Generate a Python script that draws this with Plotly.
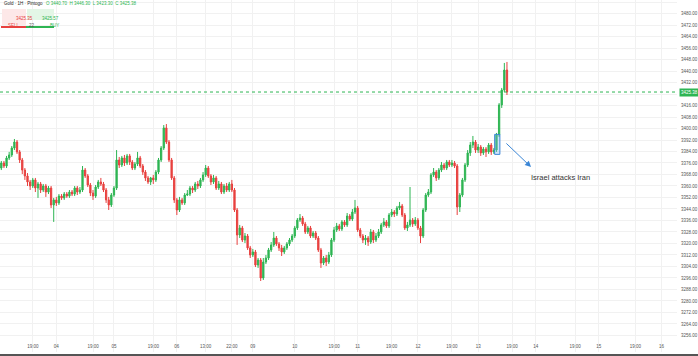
import plotly.graph_objects as go

open_ = [3372.5, 3376.0, 3373.9, 3379.5, 3381.6, 3386.4, 3390.6, 3383.7, 3378.1, 3371.1,
         3367.0, 3362.8, 3360.0, 3364.2, 3358.6, 3361.4, 3357.2, 3360.0, 3355.8, 3358.6,
         3346.8, 3350.3, 3348.2, 3353.0, 3351.7, 3354.4, 3353.0, 3355.8, 3354.4, 3358.6,
         3355.8, 3357.2, 3371.1, 3367.0, 3360.7, 3355.1, 3353.0, 3359.3, 3362.8, 3361.4,
         3357.2, 3350.3, 3346.8, 3353.7, 3358.6, 3378.1, 3374.6, 3379.5, 3376.0, 3380.9,
         3376.7, 3372.5, 3375.3, 3379.5, 3373.9, 3369.7, 3365.6, 3362.8, 3365.6, 3364.2, 3369.7, 3378.1,
         3386.4, 3400.4, 3390.6, 3378.1, 3365.6, 3350.3, 3343.3, 3350.3, 3348.2,
         3353.7, 3354.4, 3358.6, 3357.2, 3361.4, 3360.0, 3364.2, 3367.7, 3372.5,
         3367.0, 3362.8, 3365.6, 3358.6, 3361.4, 3355.8, 3360.0, 3357.2, 3361.4, 3357.2,
         3343.3, 3325.9, 3330.8, 3322.4, 3325.2, 3316.9, 3312.0, 3314.1, 3305.0, 3308.5,
         3296.0, 3307.1, 3309.9, 3315.5, 3319.0, 3323.8, 3319.7, 3316.9, 3314.1, 3316.9,
         3319.7, 3322.4, 3325.2, 3330.8, 3336.3, 3337.7, 3333.6, 3328.0, 3330.8, 3325.2,
         3327.3, 3323.8, 3315.5, 3306.4, 3309.9, 3307.1, 3312.0, 3322.4, 3329.4, 3332.2,
         3330.1, 3335.0, 3332.9, 3339.1, 3337.0, 3341.9, 3344.7, 3329.4, 3325.2, 3322.4,
         3323.8, 3321.0, 3328.0, 3322.4, 3325.2, 3328.0, 3332.9, 3335.0, 3332.2, 3339.8,
         3341.9, 3340.5, 3344.7, 3346.1, 3339.8, 3330.8, 3332.9, 3336.3, 3333.6, 3336.3,
         3330.8, 3325.2, 3343.3, 3353.7, 3355.8, 3367.7, 3369.7, 3365.6, 3371.1, 3374.6,
         3372.5, 3376.7, 3374.6, 3376.0, 3373.9, 3345.4, 3353.7, 3364.2, 3374.6, 3383.0,
         3388.5, 3390.6, 3385.0, 3387.1, 3383.0, 3385.7, 3383.7, 3388.5, 3383.7, 3385.0,
         3395.5, 3416.4, 3426.8, 3440.7]

close = [3376.0, 3373.9, 3379.5, 3381.6, 3386.4, 3390.6, 3383.7, 3378.1, 3371.1, 3367.0,
         3362.8, 3360.0, 3364.2, 3358.6, 3361.4, 3357.2, 3360.0, 3355.8, 3358.6, 3346.8,
         3350.3, 3348.2, 3353.0, 3351.7, 3354.4, 3353.0, 3355.8, 3354.4, 3358.6, 3355.8,
         3357.2, 3371.1, 3367.0, 3360.7, 3355.1, 3353.0, 3359.3, 3362.8, 3361.4, 3357.2,
         3350.3, 3346.8, 3353.7, 3358.6, 3378.1, 3374.6, 3379.5, 3376.0, 3380.9, 3376.7,
         3372.5, 3375.3, 3379.5, 3373.9, 3369.7, 3365.6, 3362.8, 3365.6, 3364.2, 3369.7, 3378.1, 3386.4,
         3400.4, 3390.6, 3378.1, 3365.6, 3350.3, 3343.3, 3350.3, 3348.2, 3353.7,
         3354.4, 3358.6, 3357.2, 3361.4, 3360.0, 3364.2, 3367.7, 3372.5, 3367.0,
         3362.8, 3365.6, 3358.6, 3361.4, 3355.8, 3360.0, 3357.2, 3361.4, 3357.2, 3343.3,
         3325.9, 3330.8, 3322.4, 3325.2, 3316.9, 3312.0, 3314.1, 3305.0, 3308.5, 3296.0,
         3307.1, 3309.9, 3315.5, 3319.0, 3323.8, 3319.7, 3316.9, 3314.1, 3316.9, 3319.7,
         3322.4, 3325.2, 3330.8, 3336.3, 3337.7, 3333.6, 3328.0, 3330.8, 3325.2, 3327.3,
         3323.8, 3315.5, 3306.4, 3309.9, 3307.1, 3312.0, 3322.4, 3329.4, 3332.2, 3330.1,
         3335.0, 3332.9, 3339.1, 3337.0, 3341.9, 3344.7, 3329.4, 3325.2, 3322.4, 3323.8,
         3321.0, 3328.0, 3322.4, 3325.2, 3328.0, 3332.9, 3335.0, 3332.2, 3339.8, 3341.9,
         3340.5, 3344.7, 3346.1, 3339.8, 3330.8, 3332.9, 3336.3, 3333.6, 3336.3, 3330.8,
         3325.2, 3343.3, 3353.7, 3355.8, 3367.7, 3369.7, 3365.6, 3371.1, 3374.6, 3372.5,
         3376.7, 3374.6, 3376.0, 3373.9, 3345.4, 3353.7, 3364.2, 3374.6, 3383.0, 3388.5,
         3390.6, 3385.0, 3387.1, 3383.0, 3385.7, 3383.7, 3388.5, 3383.7, 3385.0, 3395.5,
         3416.4, 3426.8, 3440.7, 3425.38]

high = [3377.4, 3377.4, 3380.9, 3383.7, 3387.8, 3392.7, 3392.0, 3385.0, 3379.5, 3372.5,
        3369.0, 3364.2, 3365.6, 3365.6, 3362.8, 3362.8, 3361.4, 3361.4, 3360.0, 3360.0,
        3351.7, 3352.4, 3354.4, 3354.4, 3355.8, 3355.8, 3357.2, 3357.2, 3360.0, 3360.0,
        3359.3, 3373.9, 3372.5, 3368.3, 3362.1, 3357.2, 3360.7, 3364.2, 3365.6, 3362.8,
        3358.6, 3352.4, 3355.1, 3360.0, 3385.0, 3380.2, 3380.9, 3381.6, 3382.3, 3382.3,
        3378.1, 3376.7, 3383.7, 3380.9, 3375.3, 3371.1, 3367.0, 3366.3, 3367.7, 3371.1, 3379.5, 3387.8,
        3402.4, 3403.1, 3392.0, 3379.5, 3367.0, 3351.7, 3352.4, 3351.7, 3355.1,
        3357.2, 3360.0, 3360.0, 3362.8, 3363.5, 3365.6, 3369.7, 3374.6, 3373.9,
        3368.3, 3367.7, 3367.0, 3363.5, 3362.8, 3361.4, 3362.1, 3362.8, 3364.2, 3358.6,
        3344.7, 3332.9, 3332.2, 3327.3, 3326.6, 3318.3, 3316.2, 3315.5, 3309.9, 3309.9,
        3309.9, 3312.0, 3316.9, 3321.0, 3328.0, 3325.2, 3321.0, 3319.0, 3318.3, 3321.0,
        3323.8, 3326.6, 3332.2, 3337.7, 3340.5, 3339.1, 3335.0, 3332.2, 3332.2, 3328.7,
        3328.7, 3325.2, 3316.9, 3311.3, 3312.0, 3314.1, 3323.8, 3331.5, 3334.3, 3333.6,
        3336.3, 3336.3, 3341.2, 3340.5, 3344.0, 3350.3, 3346.1, 3330.8, 3326.6, 3325.9,
        3325.2, 3330.1, 3329.4, 3327.3, 3330.1, 3334.3, 3337.7, 3336.3, 3341.2, 3344.0,
        3343.3, 3346.1, 3348.9, 3347.5, 3341.2, 3335.0, 3359.3, 3337.7, 3338.4, 3337.7,
        3332.2, 3344.7, 3355.1, 3357.9, 3369.0, 3372.5, 3371.1, 3372.5, 3376.7, 3376.0,
        3378.1, 3378.1, 3378.1, 3377.4, 3375.3, 3355.1, 3365.6, 3376.0, 3385.0, 3390.6,
        3394.8, 3392.0, 3389.2, 3388.5, 3387.1, 3387.1, 3389.9, 3389.9, 3386.4, 3396.9,
        3417.7, 3428.2, 3445.6, 3446.3]

low = [3371.1, 3372.5, 3372.5, 3378.1, 3380.2, 3385.0, 3382.3, 3376.0, 3368.3, 3364.2,
       3360.0, 3357.2, 3358.6, 3355.8, 3351.7, 3355.1, 3355.8, 3352.4, 3354.4, 3344.7,
       3335.0, 3346.1, 3346.8, 3350.3, 3350.3, 3351.7, 3351.7, 3353.0, 3353.0, 3353.7,
       3354.4, 3355.8, 3365.6, 3359.3, 3353.0, 3350.3, 3351.7, 3357.9, 3360.0, 3355.8,
       3348.2, 3343.3, 3345.4, 3352.4, 3357.2, 3372.5, 3373.2, 3373.9, 3374.6, 3374.6,
       3371.1, 3371.1, 3373.9, 3372.5, 3367.7, 3363.5, 3361.4, 3360.7, 3361.4, 3362.8, 3368.3, 3376.7,
       3385.0, 3389.2, 3376.7, 3364.2, 3348.2, 3339.8, 3341.9, 3346.8, 3346.8,
       3353.0, 3353.0, 3355.1, 3355.8, 3357.9, 3358.6, 3362.8, 3366.3, 3365.6,
       3360.7, 3361.4, 3357.2, 3357.2, 3354.4, 3354.4, 3355.8, 3355.8, 3355.8, 3341.9,
       3319.0, 3323.8, 3321.0, 3320.3, 3315.5, 3309.9, 3310.6, 3303.6, 3303.0, 3293.9,
       3294.6, 3305.7, 3308.5, 3314.1, 3317.6, 3318.3, 3314.8, 3311.3, 3312.7, 3315.5,
       3318.3, 3321.0, 3323.8, 3329.4, 3335.0, 3332.2, 3326.6, 3326.6, 3323.8, 3323.8,
       3322.4, 3314.1, 3303.0, 3305.0, 3304.3, 3305.7, 3310.6, 3321.0, 3328.0, 3328.7,
       3328.7, 3331.5, 3331.5, 3335.6, 3335.6, 3340.5, 3328.0, 3323.8, 3320.3, 3319.0,
       3318.3, 3319.7, 3320.3, 3321.0, 3323.8, 3326.6, 3331.5, 3330.8, 3330.8, 3338.4,
       3338.4, 3339.1, 3343.3, 3338.4, 3329.4, 3328.7, 3331.5, 3331.5, 3332.2, 3329.4,
       3320.3, 3323.8, 3341.9, 3352.4, 3354.4, 3366.3, 3363.5, 3364.2, 3369.7, 3371.1,
       3371.1, 3373.2, 3373.2, 3372.5, 3339.8, 3341.9, 3352.4, 3362.8, 3373.2, 3380.9,
       3386.4, 3383.0, 3383.0, 3380.9, 3381.6, 3380.2, 3382.3, 3381.6, 3382.3, 3383.7,
       3394.1, 3414.3, 3425.4, 3423.3]

bar_index = list(range(len(close)))

tick_bars = [12, 21, 35, 43, 58, 67, 78, 88, 96, 112, 127, 136, 149, 159, 172, 182,
             195, 204, 219, 228, 242, 252]
tick_text = ["19:00", "04", "19:00", "05", "19:00", "06", "13:00", "22:00", "09", "10",
             "19:00", "11", "19:00", "12", "19:00", "13", "19:00", "14", "19:00", "15",
             "19:00", "16"]

price_ticks = list(range(3248, 3489, 8))
last_price = close[-1]
sell_price = "3425.35"
buy_price = "3425.57"
spread = "22"
header = "Gold · 1H · Pintogo"
ohlc_text = "O 3440.70  H 3446.30  L 3423.30  C 3425.38"
event_text = "Israel attacks Iran"

GREEN = "#2eb553"
RED = "#e8413f"
GRID = "#f1f1f1"
FONT = "Liberation Sans, Arial, sans-serif"

W, H = 698, 356
ML, MR, MT, MB = 0, 21, 0, 4
PW, PH = W - ML - MR, H - MT - MB


def px(x):
    return x / PW


def py(y):
    return 1 - y / PH


# the price label box covers the nearest axis label, as in the reference
price_ticktext = ["" if abs(v - last_price) < 4 else f"{v:.2f}" for v in price_ticks]

fig = go.Figure()
fig.add_trace(go.Candlestick(
    x=bar_index, open=open_, high=high, low=low, close=close,
    increasing=dict(line=dict(color=GREEN, width=1), fillcolor=GREEN),
    decreasing=dict(line=dict(color=RED, width=1), fillcolor=RED),
    whiskerwidth=0, showlegend=False, hoverinfo="skip"))

shapes = [
    dict(type="line", xref="paper", yref="y", x0=0, x1=1, y0=last_price, y1=last_price,
         line=dict(color="#2eb553", width=1, dash="dot")),
    dict(type="rect", xref="x", yref="y", x0=188.3, x1=190.3, y0=3382.0, y1=3395.9,
         line=dict(color="#3b86d6", width=1), fillcolor="rgba(120,180,240,0.35)"),
    dict(type="rect", xref="paper", yref="paper", x0=px(2), x1=px(26), y0=py(25), y1=py(9),
         line=dict(width=0), fillcolor="#fde8e8"),
    dict(type="rect", xref="paper", yref="paper", x0=px(27), x1=px(54), y0=py(20), y1=py(9),
         line=dict(width=0), fillcolor="#e3f6e6"),
    dict(type="line", xref="paper", yref="paper", x0=px(1), x1=px(26), y0=py(27), y1=py(27),
         line=dict(color=RED, width=2)),
    dict(type="line", xref="paper", yref="paper", x0=px(26), x1=px(54), y0=py(27), y1=py(27),
         line=dict(color=GREEN, width=2)),
    dict(type="line", xref="paper", yref="paper", x0=0, x1=W / PW, y0=py(355), y1=py(355),
         line=dict(color="#555555", width=2)),
]

annotations = [
    dict(x=202.2, y=3373.2, ax=192.2, ay=3390.6, xref="x", yref="y", axref="x", ayref="y",
         text="", showarrow=True, arrowhead=2, arrowsize=1.2, arrowwidth=1,
         arrowcolor="#3b86d6"),
    dict(x=213.4, y=3365.6, xref="x", yref="y", text=event_text, showarrow=False,
         font=dict(size=7.5, color="#333333", family=FONT)),
    dict(x=1, y=last_price, xref="paper", yref="y", xanchor="left", xshift=2,
         text=f"{last_price:.2f}", showarrow=False, bgcolor="#2eb553", borderpad=1,
         font=dict(size=4.5, color="white", family=FONT)),
    dict(x=px(2), y=py(4), xref="paper", yref="paper", xanchor="left", yanchor="middle",
         text=header, showarrow=False, font=dict(size=4.5, color="#222222", family=FONT)),
    dict(x=px(44), y=py(4), xref="paper", yref="paper", xanchor="left", yanchor="middle",
         text=ohlc_text, showarrow=False, font=dict(size=4.5, color="#2eb553", family=FONT)),
    dict(x=px(14), y=py(14), xref="paper", yref="paper", text=sell_price, showarrow=False,
         font=dict(size=4.5, color=RED, family=FONT)),
    dict(x=px(40), y=py(14), xref="paper", yref="paper", text=buy_price, showarrow=False,
         font=dict(size=4.5, color=GREEN, family=FONT)),
    dict(x=px(6), y=py(21), xref="paper", yref="paper", text="SELL", showarrow=False,
         font=dict(size=4.5, color=RED, family=FONT)),
    dict(x=px(27), y=py(21), xref="paper", yref="paper", text=spread, showarrow=False,
         font=dict(size=4.5, color="#555555", family=FONT)),
    dict(x=px(48), y=py(21), xref="paper", yref="paper", text="BUY", showarrow=False,
         font=dict(size=4.5, color=GREEN, family=FONT)),
]

fig.update_layout(
    width=W, height=H,
    margin=dict(l=ML, r=MR, t=MT, b=MB),
    paper_bgcolor="white", plot_bgcolor="white",
    shapes=shapes, annotations=annotations,
    font=dict(family=FONT),
    xaxis=dict(range=[-0.5, 257.9], rangeslider=dict(visible=False),
               tickmode="array", tickvals=tick_bars, ticktext=tick_text,
               ticklabelposition="inside", ticks="", showgrid=True, gridcolor=GRID,
               gridwidth=1, zeroline=False, showline=False,
               tickfont=dict(size=4.5, color="#555555")),
    yaxis=dict(side="right", range=[3244.5, 3489.4], tickmode="array",
               tickvals=price_ticks, ticktext=price_ticktext,
               showgrid=True, gridcolor=GRID, gridwidth=1, zeroline=False,
               showline=False, ticks="", ticklabelstandoff=3,
               tickfont=dict(size=4.5, color="#555555")),
)

fig.write_html("out.html", config={"displayModeBar": False})

# remove the browser's default page margin so the figure sits at the window's corner
with open("out.html", "r", encoding="utf-8") as f:
    page = f.read()
page = page.replace("<head>", "<head><style>html,body{margin:0;padding:0;overflow:hidden;}</style>", 1)
with open("out.html", "w", encoding="utf-8") as f:
    f.write(page)
